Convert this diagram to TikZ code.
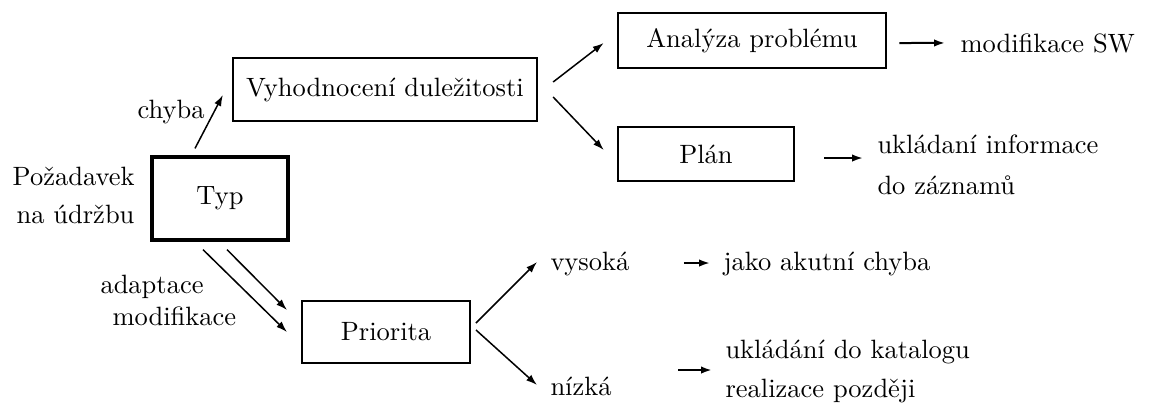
\documentclass[tikz,border=0pt]{standalone}
\usetikzlibrary{arrows.meta,calc}
\begin{document}
\fontsize{10.6pt}{12pt}\selectfont
\begin{tikzpicture}[x=0.4pt,y=-0.4pt,
  box/.style={draw,inner sep=0pt},
  lbl/.style={inner sep=0pt,anchor=base west},
  arr/.style={line width=0.6pt,-{Latex[length=4.4pt,width=3pt]}}]
\useasboundingbox (0,0) rectangle (1153,403);
% boxes
\node[box,line width=0.9pt,minimum width=121.6pt,minimum height=25.2pt] (vyh) at (385,89.5) {Vyhodnocení duležitosti};
\node[box,line width=1.3pt,minimum width=54.4pt,minimum height=33.2pt] (typ) at (220,198.5) {Typ};
\node[box,line width=1.1pt,minimum width=107.2pt,minimum height=22pt] (ana) at (752,40.5) {Analýza problému};
\node[box,line width=1pt,minimum width=70.4pt,minimum height=21.6pt] (plan) at (706,154) {Plán};
\node[box,line width=0.8pt,minimum width=67.2pt,minimum height=24.8pt] (pri) at (386,332) {Priorita};
% labels
\node[lbl] (chyba) at (137,118) {chyba};
\node[inner sep=0pt,anchor=base east] (poz) at (135,185) {\begin{tabular}[t]{@{}r@{}}Požadavek\\[3.2pt] na údržbu\end{tabular}};
\node[lbl] (adapt) at (100,293) {adaptace};
\node[lbl] (modif) at (112,325) {modifikace};
\node[lbl] (msw) at (960,52) {modifikace SW};
\node[lbl] (info) at (877,153) {\begin{tabular}[t]{@{}l@{}}ukládaní informace\\[4.4pt] do záznamů\end{tabular}};
\node[lbl] (vys) at (550,270) {vysoká};
\node[lbl] (niz) at (550,395) {nízká};
\node[lbl] (akut) at (723,270) {jako akutní chyba};
\node[lbl] (kat) at (725,358) {\begin{tabular}[t]{@{}l@{}}ukládání do katalogu\\[3.6pt] realizace později\end{tabular}};
% connectors
\draw[arr] ($(typ.north)+(-25,-7)$) -- ($(vyh.west)+(-9,5.5)$);
\draw[arr] ($(typ.south)+(-17,8)$) -- ($(pri.west)+(-14,0)$);
\draw[arr] ($(typ.south)+(7,8)$) -- ($(pri.west)+(-14,-22)$);
\draw[arr] ($(vyh.east)+(15,-7.5)$) -- ($(ana.west)+(-13,2.5)$);
\draw[arr] ($(vyh.east)+(15,7.5)$) -- ($(plan.west)+(-13,-4)$);
\draw[arr,line width=0.8pt] ($(ana.east)+(12,2.5)$) -- ($(msw.west)+(-15,0)$);
\draw[arr,line width=0.8pt] ($(plan.east)+(29,4)$) -- ($(info.base west)+(-14,5)$);
\draw[arr] ($(pri.east)+(5,-9)$) -- ($(vys.base west)+(-13,-8)$);
\draw[arr] ($(pri.east)+(5,-2)$) -- ($(niz.base west)+(-13,-10)$);
\draw[arr,line width=0.8pt] ($(vys.base east)+(54,-7)$) -- ($(akut.base west)+(-13,-7)$);
\draw[arr,line width=1.1pt] ($(niz.base east)+(66,-25)$) -- ($(kat.base west)+(-13,12)$);
\end{tikzpicture}
\end{document}
